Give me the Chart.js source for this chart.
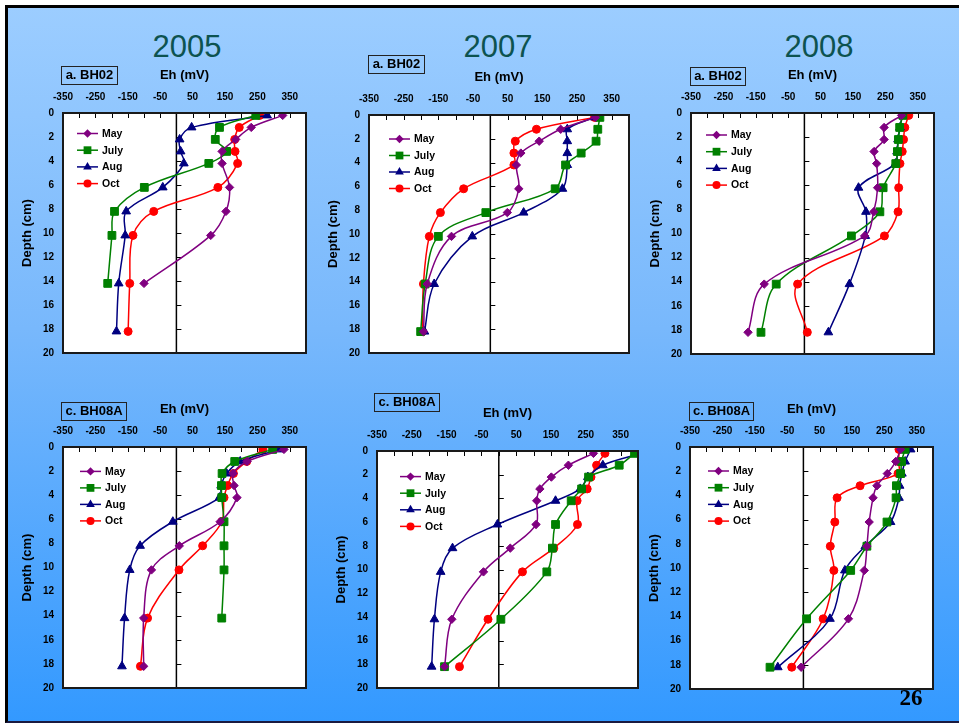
<!DOCTYPE html>
<html>
<head>
<meta charset="utf-8">
<script src="https://cdn.jsdelivr.net/npm/chart.js@4.4.1/dist/chart.umd.min.js"></script>
<style>
html, body { margin: 0; padding: 0; background: #fff; }
#page { position: relative; width: 959px; height: 723px; overflow: hidden; font-family: 'Liberation Sans', Arial, sans-serif; }
#slide { position: absolute; left: 5px; top: 5px; width: 970px; height: 713px;
  border-left: 3px solid #000; border-top: 3px solid #000; border-bottom: 2px solid #1a1a40;
  background: linear-gradient(to bottom, #9ccdff 0%, #78b8fc 45%, #3399ff 100%); }
.year { position: absolute; width: 120px; text-align: center; color: #0d5350; font-size: 31px; line-height: 31px; }
.tag { position: absolute; box-sizing: border-box; height: 19px; border: 1.5px solid #222; font-weight: bold;
  font-size: 13px; line-height: 16px; text-align: center; color: #000; z-index: 2; }
.pnum { position: absolute; left: 880px; top: 684px; width: 62px; text-align: center;
  font-family: 'Liberation Serif', 'Times New Roman', serif; font-weight: bold; font-size: 23px; line-height: 28px; }
canvas { position: absolute; }
</style>
</head>
<body>
<div id="page">
  <div id="slide"></div>
  <div class="year" style="left:127px; top:31px;">2005</div>
  <div class="year" style="left:438px; top:31px;">2007</div>
  <div class="year" style="left:759px; top:31px;">2008</div>

  <div class="tag" style="left:61px; top:66px; width:57px;">a. BH02</div>
  <div class="tag" style="left:368px; top:55px; width:57px;">a. BH02</div>
  <div class="tag" style="left:690px; top:67px; width:56px;">a. BH02</div>
  <div class="tag" style="left:61px; top:402px; width:66px;">c. BH08A</div>
  <div class="tag" style="left:374px; top:393px; width:66px;">c. BH08A</div>
  <div class="tag" style="left:689px; top:402px; width:65px;">c. BH08A</div>

  <canvas id="c1" width="313" height="310" style="left:3px; top:53px;"></canvas>
  <canvas id="c2" width="330" height="308" style="left:309px; top:55px;"></canvas>
  <canvas id="c3" width="313" height="311" style="left:631px; top:53px;"></canvas>
  <canvas id="c4" width="313" height="311" style="left:3px; top:387px;"></canvas>
  <canvas id="c5" width="331" height="307" style="left:317px; top:391px;"></canvas>
  <canvas id="c6" width="313" height="312" style="left:630px; top:387px;"></canvas>

  <div class="pnum">26</div>
</div>
<script>
// sampling depths (cm) and axis ticks
var depths = [0.2, 1.2, 2.2, 3.2, 4.2, 6.2, 8.2, 10.2, 14.2, 18.2];
var months = ['May', 'July', 'Aug', 'Oct'];
var ehTicks = [-350, -250, -150, -50, 50, 150, 250, 350];
var depthTicks = [0, 2, 4, 6, 8, 10, 12, 14, 16, 18, 20];

// Eh (mV) per depth, null = not measured
// 2005 BH02
var bh02_2005_may  = [328, 231, 183, 141, 141, 164, 153, 106, -100, null];
var bh02_2005_july = [245, 133, 120, 155, 100, -99, -191, -199, -212, null];
var bh02_2005_aug  = [280, 47, 10, 13, 23, -42, -155, -158, -178, -185];
var bh02_2005_oct  = [257, 194, 180, 181, 189, 128, -70, -134, -144, -149];
// 2007 BH02
var bh02_2007_may  = [303, 203, 141, 88, 75, 82, 49, -112, -182, -193];
var bh02_2007_july = [316, 310, 305, 262, 217, 187, -13, -150, -188, -201];
var bh02_2007_aug  = [301, 222, 222, 222, 222, 208, 96, -52, -162, -190];
var bh02_2007_oct  = [301, 133, 72, 68, 68, -77, -144, -176, -193, -196];
// 2008 BH02
var bh02_2008_may  = [300, 246, 246, 215, 223, 226, 214, 186, -124, -174];
var bh02_2008_july = [304, 294, 290, 287, 282, 243, 233, 145, -87, -134];
var bh02_2008_aug  = [302, 295, 289, 286, 281, 167, 190, 188, 139, 74];
var bh02_2008_oct  = [322, 310, 306, 302, 295, 291, 289, 247, -21, 9];
// 2005 BH08A
var bh08_2005_may  = [332, 218, 175, 178, 187, 135, 9, -77, -101, -101];
var bh08_2005_july = [297, 180, 141, 139, 140, 147, 147, 147, 140, null];
var bh08_2005_aug  = [319, 197, 155, 138, 133, -11, -112, -144, -160, -168];
var bh08_2005_oct  = [267, 217, 176, 158, 147, 140, 81, 8, -89, -111];
// 2007 BH08A
var bh08_2007_may  = [272, 200, 151, 118, 109, 107, 33, -44, -135, -156];
var bh08_2007_july = [390, 346, 258, 238, 208, 163, 154, 138, 6, -156];
var bh08_2007_aug  = [410, 299, 256, 234, 163, -4, -133, -167, -185, -193];
var bh08_2007_oct  = [305, 281, 265, 254, 225, 226, 158, 68, -31, -113];
// 2008 BH08A
var bh08_2008_may  = [300, 285, 259, 227, 215, 203, 196, 188, 139, -7];
var bh08_2008_july = [314, 303, 300, 287, 286, 258, 196, 146, 10, -103];
var bh08_2008_aug  = [331, 314, 304, 297, 295, 269, 191, 128, 82, -79];
var bh08_2008_oct  = [295, 294, 292, 175, 104, 97, 83, 94, 61, -36];

var colors  = ['#800080', '#008000', '#000080', '#ff0000'];
var markers = ['rectRot', 'rect', 'triangle', 'circle'];
var radii   = [4.2, 5.5, 5, 4];

Chart.defaults.font.family = "'Liberation Sans', Arial, sans-serif";

function drawMarker(ctx, style, x, y, r) {
  ctx.beginPath();
  if (style === 'rectRot') {
    ctx.moveTo(x, y - r); ctx.lineTo(x + r, y); ctx.lineTo(x, y + r); ctx.lineTo(x - r, y);
  } else if (style === 'rect') {
    var s = r * Math.SQRT1_2;
    ctx.rect(x - s, y - s, 2 * s, 2 * s);
  } else if (style === 'triangle') {
    for (var k = 0; k < 3; k++) {
      var a = k * 2 * Math.PI / 3;
      var px = x + Math.sin(a) * r, py = y - Math.cos(a) * r;
      if (k === 0) ctx.moveTo(px, py); else ctx.lineTo(px, py);
    }
  } else {
    ctx.arc(x, y, r, 0, Math.PI * 2);
  }
  ctx.closePath();
  ctx.fill();
}

// white plot area, zero line, inside tick marks, frame
var framePlugin = {
  id: 'frame',
  beforeDraw: function (chart) {
    var a = chart.chartArea, ctx = chart.ctx;
    ctx.save();
    ctx.fillStyle = '#fff';
    ctx.fillRect(a.left, a.top, a.right - a.left, a.bottom - a.top);
    ctx.restore();
  },
  beforeDatasetsDraw: function (chart) {
    var a = chart.chartArea, ctx = chart.ctx, x = chart.scales.x, y = chart.scales.y;
    var x0 = x.getPixelForValue(0);
    ctx.save();
    ctx.strokeStyle = '#000';
    ctx.lineWidth = 1.5;
    ctx.beginPath(); ctx.moveTo(x0, a.top); ctx.lineTo(x0, a.bottom); ctx.stroke();
    ctx.lineWidth = 1;
    ctx.beginPath();
    x.ticks.forEach(function (t) {
      var px = Math.round(x.getPixelForValue(t.value)) + 0.5;
      ctx.moveTo(px, a.top); ctx.lineTo(px, a.top + 5);
    });
    y.ticks.forEach(function (t) {
      var py = Math.round(y.getPixelForValue(t.value)) + 0.5;
      ctx.moveTo(x0, py); ctx.lineTo(x0 + 5, py);
    });
    ctx.stroke();
    ctx.restore();
  },
  afterDatasetsDraw: function (chart) {
    var a = chart.chartArea, ctx = chart.ctx;
    ctx.save();
    ctx.strokeStyle = '#1a1a1a';
    ctx.lineWidth = 2;
    ctx.strokeRect(a.left, a.top, a.right - a.left, a.bottom - a.top);
    ctx.restore();
  }
};

// excel style legend inside the plot
var boxLegend = {
  id: 'boxLegend',
  afterDraw: function (chart, args, opts) {
    var a = chart.chartArea, ctx = chart.ctx;
    ctx.save();
    chart.data.datasets.forEach(function (ds, i) {
      var y = a.top + opts.dy + i * opts.gap;
      var x0 = a.left + opts.dx;
      ctx.strokeStyle = ds.borderColor;
      ctx.fillStyle = ds.borderColor;
      ctx.lineWidth = 1.5;
      ctx.beginPath(); ctx.moveTo(x0, y); ctx.lineTo(x0 + 21, y); ctx.stroke();
      drawMarker(ctx, ds.pointStyle, x0 + 10.5, y, ds.pointRadius);
      ctx.fillStyle = '#000';
      ctx.font = "bold 10.5px 'Liberation Sans', Arial, sans-serif";
      ctx.textBaseline = 'middle';
      ctx.fillText(ds.label, x0 + 25, y + 0.5);
    });
    ctx.restore();
  }
};

function makeChart(id, series, leg) {
  var datasets = months.map(function (m, i) {
    return {
      label: m,
      data: depths.map(function (d, k) { return { x: series[i][k], y: d }; })
                  .filter(function (p) { return p.x !== null; }),
      borderColor: colors[i],
      backgroundColor: colors[i],
      pointBackgroundColor: colors[i],
      pointBorderColor: colors[i],
      pointStyle: markers[i],
      pointRadius: radii[i],
      pointBorderWidth: 1,
      borderWidth: 1.5,
      tension: 0.35
    };
  });
  return new Chart(document.getElementById(id), {
    type: 'line',
    data: { datasets: datasets },
    options: {
      responsive: false,
      animation: false,
      devicePixelRatio: 1,
      events: [],
      layout: { padding: { left: 0, top: 0, right: 10, bottom: 10 } },
      plugins: {
        legend: { display: false },
        tooltip: { enabled: false },
        boxLegend: leg
      },
      scales: {
        x: {
          type: 'linear',
          position: 'top',
          min: -350,
          max: 400,
          grid: { display: false, drawTicks: false },
          border: { display: false },
          ticks: {
            stepSize: 50,
            autoSkip: false,
            maxRotation: 0,
            padding: 10,
            color: '#000',
            font: { size: 10, weight: 'bold' },
            callback: function (v) { return ehTicks.indexOf(v) >= 0 ? String(v) : ''; }
          },
          title: {
            display: true,
            text: 'Eh (mV)',
            color: '#000',
            font: { size: 13, weight: 'bold' },
            padding: { top: 15, bottom: 0 }
          },
          afterFit: function (s) { s.height = 60; s.paddingLeft = 0; s.paddingRight = 0; }
        },
        y: {
          type: 'linear',
          reverse: true,
          min: 0,
          max: 20,
          afterBuildTicks: function (s) { s.ticks = depthTicks.map(function (v) { return { value: v }; }); },
          grid: { display: false, drawTicks: false },
          border: { display: false },
          ticks: {
            padding: 9,
            color: '#000',
            font: { size: 10, weight: 'bold' }
          },
          title: {
            display: true,
            text: 'Depth (cm)',
            color: '#000',
            font: { size: 13, weight: 'bold' },
            padding: { top: 17, bottom: 0 }
          },
          afterFit: function (s) { s.width = 60; s.paddingTop = 0; s.paddingBottom = 0; }
        }
      }
    },
    plugins: [framePlugin, boxLegend]
  });
}

makeChart('c1', [bh02_2005_may, bh02_2005_july, bh02_2005_aug, bh02_2005_oct], { dx: 14, dy: 20.5, gap: 16.7 });
makeChart('c2', [bh02_2007_may, bh02_2007_july, bh02_2007_aug, bh02_2007_oct], { dx: 20, dy: 24, gap: 16.5 });
makeChart('c3', [bh02_2008_may, bh02_2008_july, bh02_2008_aug, bh02_2008_oct], { dx: 15, dy: 22, gap: 16.7 });
makeChart('c4', [bh08_2005_may, bh08_2005_july, bh08_2005_aug, bh08_2005_oct], { dx: 17, dy: 24.4, gap: 16.5 });
makeChart('c5', [bh08_2007_may, bh08_2007_july, bh08_2007_aug, bh08_2007_oct], { dx: 23, dy: 25.6, gap: 16.6 });
makeChart('c6', [bh08_2008_may, bh08_2008_july, bh08_2008_aug, bh08_2008_oct], { dx: 18, dy: 24, gap: 16.7 });
</script>
</body>
</html>
